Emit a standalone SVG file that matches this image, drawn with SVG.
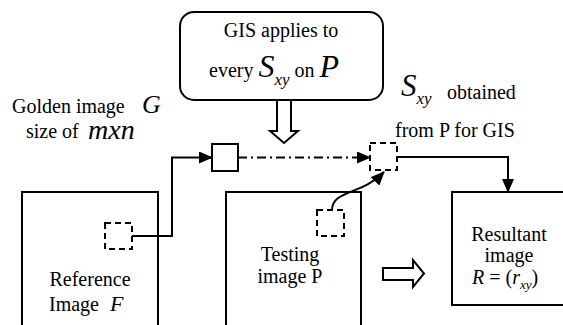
<svg xmlns="http://www.w3.org/2000/svg" width="563" height="325" viewBox="0 0 563 325">
<defs>
<marker id="ah" markerWidth="14" markerHeight="12" refX="13" refY="6" orient="auto" markerUnits="userSpaceOnUse">
<path d="M0,0 L14,6 L0,12 Z" fill="#000"/>
</marker>
<style>
text, tspan{fill:#000;font-family:"Liberation Serif","DejaVu Serif","Noto Serif",Times,serif}
.t{font-size:20px}
.i{font-style:italic}
.box{fill:#fff;stroke:#000;stroke-width:2}
.dash{fill:none;stroke:#000;stroke-width:2;stroke-dasharray:6,4}
.ln{fill:none;stroke:#000;stroke-width:2}
.hollow{fill:#fff;stroke:#000;stroke-width:2;stroke-linejoin:miter}
</style>
</defs>
<rect width="563" height="325" fill="#fff"/>

<g id="gis-box">
<rect class="box" x="180" y="12" width="203" height="88" rx="14"/>
<text class="t" x="281" y="37" text-anchor="middle">GIS applies to</text>
<text class="t" x="209" y="77">every <tspan class="i" font-size="32">S</tspan><tspan class="i" font-size="17" dy="8">xy</tspan><tspan dy="-8"> on </tspan><tspan class="i" font-size="32">P</tspan></text>
</g>

<g id="golden-label">
<text class="t" x="12" y="113">Golden image</text>
<text class="i" x="142" y="113" font-size="26">G</text>
<text class="t" x="26" y="138">size of</text>
<text class="i" x="88" y="139" font-size="28">mxn</text>
</g>

<g id="sxy-label">
<text x="401" y="96"><tspan class="i" font-size="31">S</tspan><tspan class="i" font-size="17" dy="8">xy</tspan></text>
<text class="t" x="447" y="99">obtained</text>
<text class="t" x="395" y="137">from P for GIS</text>
</g>

<g id="golden-square">
<rect class="box" x="212" y="144" width="26" height="27"/>
</g>

<g id="sxy-square">
<rect class="dash" x="370" y="143" width="27" height="27"/>
</g>

<g id="reference-image">
<rect class="box" x="22" y="192" width="136" height="150"/>
<rect class="dash" x="105" y="223" width="27" height="26"/>
<text class="t" x="90" y="286" text-anchor="middle">Reference</text>
<text class="t" x="49" y="311">Image</text>
<text class="i" x="110" y="311" font-size="22">F</text>
</g>

<g id="testing-image">
<rect class="box" x="226" y="192" width="135" height="150"/>
<rect class="dash" x="317" y="210" width="27" height="26"/>
<text class="t" x="290" y="261" text-anchor="middle">Testing</text>
<text class="t" x="290" y="283" text-anchor="middle">image P</text>
</g>

<g id="resultant-image">
<rect class="box" x="452" y="192" width="120" height="113"/>
<text class="t" x="509" y="241" text-anchor="middle">Resultant</text>
<text class="t" x="509" y="262" text-anchor="middle">image</text>
<text class="t" x="472" y="284"><tspan class="i">R</tspan> = (<tspan class="i">r</tspan><tspan class="i" font-size="13" dy="5">xy</tspan><tspan dy="-5">)</tspan></text>
</g>

<g id="connectors">
<polyline class="ln" points="132,236 172,236 172,157.5 212,157.5" marker-end="url(#ah)"/>
<line x1="238" y1="157.5" x2="370" y2="157.5" stroke="#000" stroke-width="2" stroke-dasharray="9,4,2,4" marker-end="url(#ah)"/>
<polyline class="ln" points="397,157 508,157 508,192" marker-end="url(#ah)"/>
<path class="ln" d="M332,210 C332,190 362,195 384,172" marker-end="url(#ah)"/>
<polygon class="hollow" points="277,100 291,100 291,131 298,131 284,143 270,131 277,131"/>
<polygon class="hollow" points="383,268 413,268 413,260 424,273.5 413,287 413,280 383,280"/>
</g>
</svg>
